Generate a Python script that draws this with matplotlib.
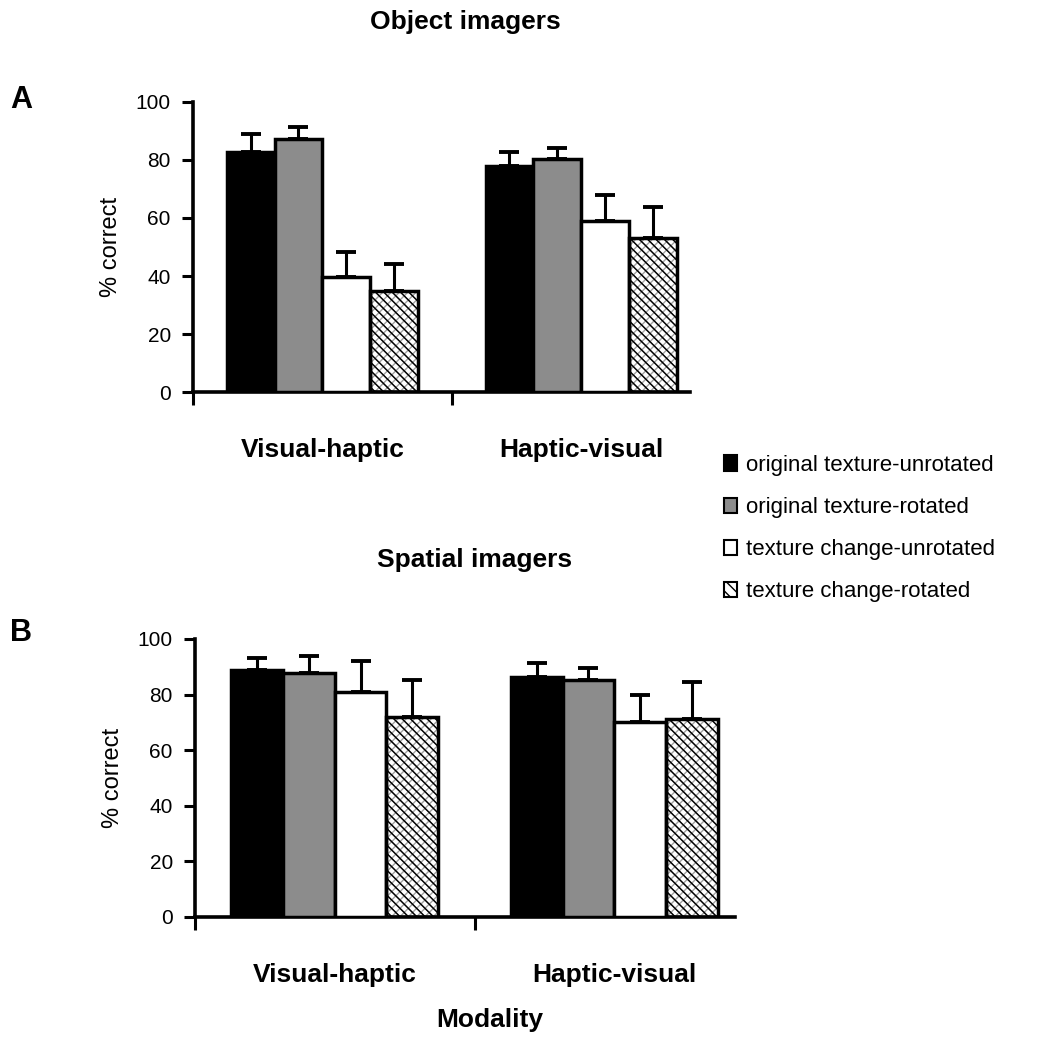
import matplotlib
matplotlib.use("Agg")
import matplotlib.pyplot as plt
from matplotlib.patches import Patch
import numpy as np

plt.rcParams['font.family'] = ['Liberation Sans', 'DejaVu Sans']

categories = ["Visual-haptic", "Haptic-visual"]
series = ["original texture-unrotated", "original texture-rotated",
          "texture change-unrotated", "texture change-rotated"]

# Panel A: Object imagers (rows = series, cols = categories)
obj_means = [[82.8, 78.0], [87.2, 80.2], [39.7, 59.1], [34.8, 53.0]]
obj_errs = [[6.2, 4.9], [4.2, 4.0], [8.6, 8.7], [9.2, 10.9]]
# Panel B: Spatial imagers
spa_means = [[88.8, 86.2], [87.9, 85.2], [81.0, 70.3], [72.0, 71.1]]
spa_errs = [[4.2, 5.0], [6.0, 4.2], [11.2, 9.6], [13.2, 13.5]]

yticks = [0, 20, 40, 60, 80, 100]
colors = ["black", "#8c8c8c", "white", "white"]

W, H = 1038, 1050
fig = plt.figure(figsize=(W / 100, H / 100), dpi=100)


def px_axes(left, right, top, bottom):
    return fig.add_axes([left / W, 1 - bottom / H, (right - left) / W, (bottom - top) / H])


def draw_panel(ax, means, errs, xmax):
    x = np.arange(len(categories))
    w = 0.185
    for i in range(len(series)):
        xs = x + (i - 1.5) * w
        if i == 3:
            ax.bar(xs, means[i], w, color="white", edgecolor="#a0a0a0", hatch="xxxx", linewidth=0, zorder=2)
            ax.bar(xs, means[i], w, color="none", edgecolor="black", hatch="\\\\\\\\", linewidth=2.5, zorder=3)
        else:
            ax.bar(xs, means[i], w, color=colors[i], edgecolor="black", linewidth=2.5, zorder=3)
        ax.errorbar(xs, means[i], yerr=[np.zeros(len(x)), errs[i]], fmt="none", ecolor="black",
                    elinewidth=2.2, capsize=7, capthick=2.8, zorder=1)
    ax.set_ylim(0, 100)
    ax.set_xlim(-0.5, xmax)
    ax.set_yticks(yticks)
    ax.set_yticklabels([str(t) for t in yticks], fontsize=15)
    ax.set_xticks([-0.5, 0.5])
    ax.set_xticklabels(["", ""])
    ax.set_xticks([0, 1], minor=True)
    ax.set_xticklabels(categories, minor=True, fontsize=19, fontweight="bold")
    ax.tick_params(axis="x", which="minor", length=0, pad=33)
    ax.tick_params(axis="x", which="major", length=9, width=2.2, direction="out")
    ax.tick_params(axis="y", length=8, width=2.2, direction="out", pad=8)
    for s in ["top", "right"]:
        ax.spines[s].set_visible(False)
    for s in ["left", "bottom"]:
        ax.spines[s].set_linewidth(2.6)
    ax.set_ylabel("% correct", fontsize=17, labelpad=10)


axA = px_axes(193, 690, 102, 392)
draw_panel(axA, obj_means, obj_errs, 1.42)
axB = px_axes(195, 735, 639, 917)
draw_panel(axB, spa_means, spa_errs, 1.432)

fig.text(465 / W, 1 - 22 / H, "Object imagers", fontsize=19, fontweight="bold", ha="center", va="center")
fig.text(475 / W, 1 - 560 / H, "Spatial imagers", fontsize=19, fontweight="bold", ha="center", va="center")
fig.text(10 / W, 1 - 100 / H, "A", fontsize=22, fontweight="bold", ha="left", va="center")
fig.text(10 / W, 1 - 633 / H, "B", fontsize=22, fontweight="bold", ha="left", va="center")
fig.text(490 / W, 1 - 1020 / H, "Modality", fontsize=19, fontweight="bold", ha="center", va="center")

handles = [
    Patch(facecolor="black", edgecolor="black", linewidth=1.5),
    Patch(facecolor="#8c8c8c", edgecolor="black", linewidth=1.5),
    Patch(facecolor="white", edgecolor="black", linewidth=1.5),
    Patch(facecolor="white", edgecolor="black", linewidth=1.5, hatch="\\\\\\"),
]
fig.legend(handles, series, loc="upper left", bbox_to_anchor=(724 / W, 1 - 455 / H), frameon=False,
           fontsize=16, handlelength=0.6, handleheight=0.7, handletextpad=0.4, labelspacing=0.95,
           borderaxespad=0, borderpad=0)

fig.savefig("out.png", dpi=100)
